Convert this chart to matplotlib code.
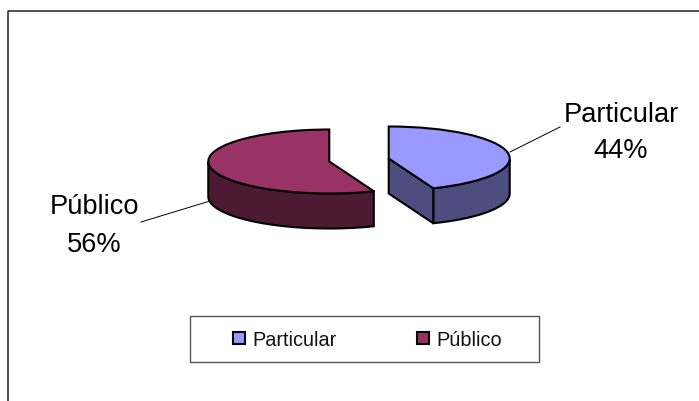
import numpy as np
import matplotlib
matplotlib.use("Agg")
import matplotlib.pyplot as plt
from matplotlib.transforms import Affine2D
from matplotlib.patches import Polygon, Patch, Rectangle

plt.rcParams['font.family'] = ['Liberation Sans', 'DejaVu Sans']

labels = ['Particular', 'Público']
values = [44, 56]
percent_labels = ['44%', '56%']
top_colors = ['#9999FF', '#993366']
side_colors = ['#4D4D80', '#4D1A33']

W, H = 699, 402
CX, CY, RX, RY, DEPTH = 359, 161, 121, 32, 35

fig = plt.figure(figsize=(W / 100, H / 100), dpi=100)
ax = fig.add_axes([0, 0, 1, 1])
wedges, _ = ax.pie(values, explode=[0.25, 0.25], startangle=90, counterclock=False,
                   colors=top_colors, radius=1,
                   wedgeprops=dict(edgecolor='black', linewidth=1.5, zorder=5))
ax.set_aspect('auto')
ax.set_xlim(0, W)
ax.set_ylim(H, 0)
ax.axis('off')

squash = Affine2D().scale(RX, -RY).translate(CX, CY)
for w, side in zip(wedges, side_colors):
    w.set_transform(squash + ax.transData)
    c = np.array(w.center)
    px = lambda a: np.column_stack([c[0] + np.cos(a), c[1] + np.sin(a)])
    t1, t2 = np.radians(w.theta1), np.radians(w.theta2)
    a = np.unwrap(np.linspace(t1, t2, 200))
    rim = a[np.sin(a) <= 0]
    top = squash.transform(px(rim))
    bottom = top + [0, DEPTH]
    ax.add_patch(Polygon(np.vstack([top, bottom[::-1]]), closed=True, facecolor=side,
                         edgecolor='black', linewidth=1.5, zorder=3))
    cc = squash.transform(c.reshape(1, 2))[0]
    for t in (t1, t2):
        e = squash.transform(px(np.array([t])))[0]
        if e[0] > cc[0] and e[1] > cc[1] and np.cos(t) > 0 and c[0] > 0:
            ax.add_patch(Polygon([cc, e, e + [0, DEPTH], cc + [0, DEPTH]], closed=True,
                                 facecolor=side, edgecolor='black', linewidth=1.5, zorder=4))

# leader lines and data labels
ax.plot([510, 560], [153, 128], color='black', lw=0.7, zorder=2)
ax.plot([210, 141], [202, 223], color='black', lw=0.7, zorder=2)
ax.text(621, 122, labels[0], ha='center', va='baseline', fontsize=19.6, color='black')
ax.text(621, 158, percent_labels[0], ha='center', va='baseline', fontsize=19.6, color='black')
ax.text(94, 214, labels[1], ha='center', va='baseline', fontsize=19.6, color='black')
ax.text(94, 252, percent_labels[1], ha='center', va='baseline', fontsize=19.6, color='black')

# chart frame: left and top sides only are inside the crop
ax.plot([8, 8, W], [H, 11.5, 11.5], color='#222222', lw=1.1, zorder=1)

# legend frame and entries
ax.add_patch(Rectangle((190, 317), 349, 46, facecolor='white', edgecolor='#555555',
                       linewidth=1.0, zorder=6))
handles = [Patch(facecolor=c, edgecolor='black', linewidth=1.5) for c in top_colors]
leg = ax.legend(handles, labels, ncol=2, loc='center', bbox_to_anchor=(367.5, 340.5),
                bbox_transform=ax.transData, fontsize=14.3, frameon=False,
                handlelength=0.6, handleheight=0.6, handletextpad=0.38,
                columnspacing=4.05, borderpad=0, borderaxespad=0)
leg.set_zorder(7)
for t in leg.get_texts():
    t.set_color('#111111')

fig.savefig('out.png', dpi=100, facecolor='white')
